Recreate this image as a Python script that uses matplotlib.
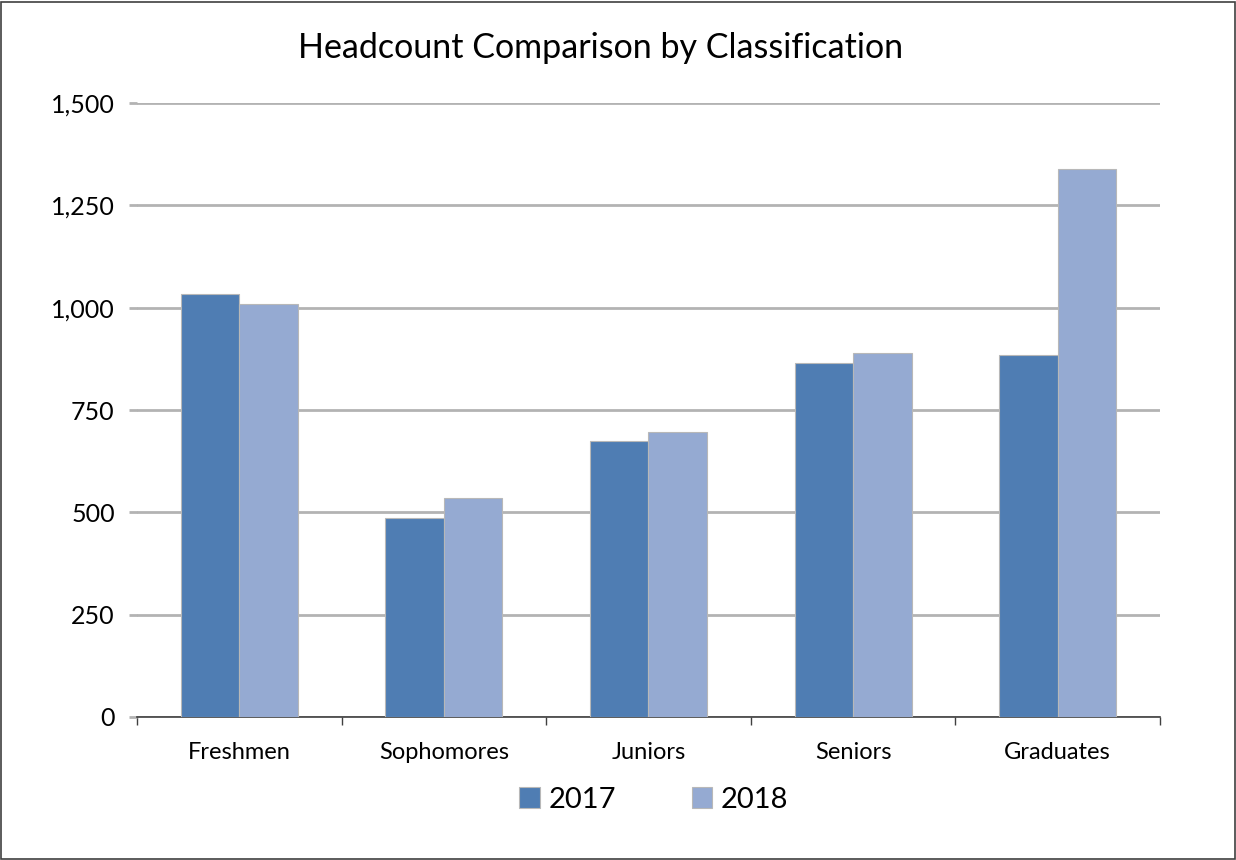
import numpy as np
import matplotlib.pyplot as plt
from matplotlib.patches import Rectangle

# values
categories = ['Freshmen', 'Sophomores', 'Juniors', 'Seniors', 'Graduates']
years = ['2017', '2018']
headcount_2017 = [1033, 485, 675, 866, 884]
headcount_2018 = [1009, 534, 697, 890, 1339]
y_ticks = [0, 250, 500, 750, 1000, 1250, 1500]

plt.rcParams['font.family'] = ['Lato', 'DejaVu Sans']

fig = plt.figure(figsize=(12.36, 8.6), dpi=100)
ax = fig.add_axes([0.1108, 0.1663, 0.8277, 0.7139])

x = np.arange(len(categories))
w = 0.286
ax.bar(x - w / 2, headcount_2017, w, color='#4F7DB3', edgecolor='#B8B8B8',
       linewidth=0.8, label=years[0], zorder=3)
ax.bar(x + w / 2, headcount_2018, w, color='#95AAD2', edgecolor='#B8B8B8',
       linewidth=0.8, label=years[1], zorder=3)

ax.set_xlim(-0.5, len(categories) - 0.5)
ax.set_ylim(0, 1500)
ax.set_yticks(y_ticks)
ax.set_yticklabels([f'{v:,}' for v in y_ticks], fontsize=18)
ax.yaxis.grid(True, color='#B3B3B3', linewidth=2, zorder=0)
ax.tick_params(axis='y', length=6, width=2, color='#B3B3B3', pad=10)

ax.set_xticks(x)
ax.set_xticklabels(categories, fontsize=17)
ax.set_xticks(np.arange(len(categories) + 1) - 0.5, minor=True)
ax.tick_params(axis='x', which='major', length=0, pad=18)
ax.tick_params(axis='x', which='minor', length=6, width=1, color='#404040', direction='out')

for side in ['top', 'right', 'left']:
    ax.spines[side].set_visible(False)
ax.spines['bottom'].set_color('#404040')
ax.spines['bottom'].set_linewidth(1.2)

fig.text(0.486, 0.944, 'Headcount Comparison by Classification',
         ha='center', va='center', fontsize=24.5)

fig.legend(loc='center', bbox_to_anchor=(0.529, 0.07), ncol=2, frameon=False,
           fontsize=21, handlelength=0.7, handleheight=0.7, handletextpad=0.3,
           columnspacing=2.6)

# outer border of the chart area
fig.add_artist(Rectangle((0.001, 0.001), 0.998, 0.997, transform=fig.transFigure,
                         fill=False, edgecolor='#404040', linewidth=1.2))

fig.savefig('out.png', dpi=100)
